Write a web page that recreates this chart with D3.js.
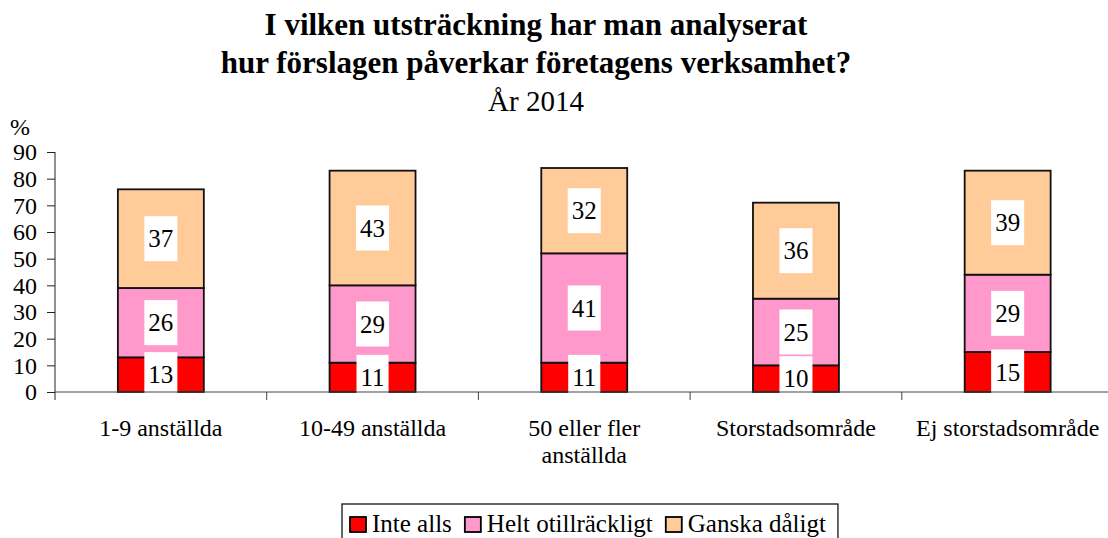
<!DOCTYPE html>
<html>
<head>
<meta charset="utf-8">
<script src="https://cdn.jsdelivr.net/npm/d3@7"></script>
<style>
  html, body { margin: 0; padding: 0; background: #fff; }
  svg { display: block; }
  svg text { font-family: 'Liberation Serif', 'Times New Roman', Times, serif; }
</style>
</head>
<body>
<svg id="chart" width="1108" height="538"></svg>
<script>
// Survey answers per company group, percent
const categories = ["1-9 anställda", "10-49 anställda", "50 eller fler anställda", "Storstadsområde", "Ej storstadsområde"];
const categoryLines = [["1-9 anställda"], ["10-49 anställda"], ["50 eller fler", "anställda"], ["Storstadsområde"], ["Ej storstadsområde"]];
const inteAlls = [13, 11, 11, 10, 15];
const heltOtillrackligt = [26, 29, 41, 25, 29];
const ganskaDaligt = [37, 43, 32, 36, 39];
const seriesNames = ["Inte alls", "Helt otillräckligt", "Ganska dåligt"];
const seriesColors = ["#FF0000", "#FF99CC", "#FFCC99"];
const yTicks = [0, 10, 20, 30, 40, 50, 60, 70, 80, 90];
const titleLines = ["I vilken utsträckning har man analyserat", "hur förslagen påverkar företagens verksamhet?"];
const subtitle = "År 2014";

const FONT = "Liberation Serif";
const svg = d3.select("#chart");
const plotLeft = 55, plotTop = 152, plotBottom = 392, step = 211.7;

const x = d3.scaleBand()
  .domain(categories)
  .range([plotLeft, plotLeft + step * categories.length])
  .paddingInner(0.594)
  .paddingOuter(0.297);

const y = d3.scaleLinear().domain([0, 90]).range([plotBottom, plotTop]);

// Titles
const titleX = 536;
svg.selectAll("text.title").data(titleLines).enter().append("text")
  .attr("class", "title")
  .attr("x", titleX).attr("y", (d, i) => 35 + i * 38)
  .attr("text-anchor", "middle")
  .attr("font-family", FONT)
  .attr("font-size", 31).attr("font-weight", "bold")
  .text(d => d);
svg.append("text")
  .attr("x", titleX).attr("y", 111)
  .attr("text-anchor", "middle")
  .attr("font-family", FONT)
  .attr("font-size", 29)
  .text(subtitle);

// Stacked data
const rows = categories.map((c, i) => ({
  cat: c,
  "Inte alls": inteAlls[i],
  "Helt otillräckligt": heltOtillrackligt[i],
  "Ganska dåligt": ganskaDaligt[i]
}));
const stacked = d3.stack().keys(seriesNames)(rows);

const layers = svg.append("g").selectAll("g").data(stacked).enter().append("g")
  .attr("fill", (d, i) => seriesColors[i]);
layers.selectAll("rect").data(d => d).enter().append("rect")
  .attr("x", d => x(d.data.cat))
  .attr("width", x.bandwidth())
  .attr("y", d => y(d[1]))
  .attr("height", d => y(d[0]) - y(d[1]))
  .attr("stroke", "#111")
  .attr("stroke-width", 1.8);

// Value labels on white boxes
const labels = svg.append("g");
stacked.forEach(layer => {
  layer.forEach(d => {
    const v = d[1] - d[0];
    const cx = x(d.data.cat) + x.bandwidth() / 2;
    const cy = y((d[0] + d[1]) / 2);
    const g = labels.append("g");
    const t = g.append("text")
      .attr("x", cx).attr("y", cy).attr("dy", "0.35em")
      .attr("text-anchor", "middle")
      .attr("font-family", FONT)
      .attr("font-size", 25)
      .text(v);
    const w = t.node().getComputedTextLength() + 8;
    g.insert("rect", "text")
      .attr("x", cx - w / 2).attr("y", cy - 22.5)
      .attr("width", w).attr("height", 45)
      .attr("fill", "#fff");
  });
});

// Y axis
const yAxis = svg.append("g")
  .attr("transform", `translate(${plotLeft},0)`)
  .call(d3.axisLeft(y).tickValues(yTicks).tickSize(8).tickSizeOuter(0).tickPadding(10));
yAxis.attr("font-family", FONT);
yAxis.select(".domain").remove();
yAxis.selectAll(".tick line").attr("stroke", "#222");
yAxis.selectAll(".tick text")
  .attr("font-size", 24)
  .attr("font-family", FONT)
  .attr("fill", "#000");
svg.append("line")
  .attr("x1", plotLeft).attr("x2", plotLeft)
  .attr("y1", y(90)).attr("y2", plotBottom + 8)
  .attr("stroke", "#222");
svg.append("text")
  .attr("x", 10).attr("y", 135)
  .attr("font-family", FONT)
  .attr("font-size", 24)
  .text("%");

// X axis with separators between categories
svg.append("line")
  .attr("x1", plotLeft).attr("x2", x.range()[1])
  .attr("y1", plotBottom).attr("y2", plotBottom)
  .attr("stroke", "#444");
svg.append("g").selectAll("line").data(categories).enter().append("line")
  .attr("x1", d => x(d) + x.bandwidth() + x.step() * x.paddingInner() / 2)
  .attr("x2", d => x(d) + x.bandwidth() + x.step() * x.paddingInner() / 2)
  .attr("y1", plotBottom).attr("y2", plotBottom + 8)
  .attr("stroke", "#444");

const catLabels = svg.append("g").selectAll("text").data(categories).enter().append("text")
  .attr("x", d => x(d) + x.bandwidth() / 2)
  .attr("y", 436)
  .attr("text-anchor", "middle")
  .attr("font-family", FONT)
  .attr("font-size", 24);
catLabels.each(function(d, i) {
  const t = d3.select(this);
  categoryLines[i].forEach((line, j) => {
    t.append("tspan")
      .attr("x", x(d) + x.bandwidth() / 2)
      .attr("dy", j === 0 ? 0 : 27)
      .text(line);
  });
});

// Legend
const legend = svg.append("g");
const legendBox = legend.append("rect")
  .attr("y", 504).attr("height", 40)
  .attr("fill", "#fff").attr("stroke", "#000").attr("stroke-width", 1.2);
let lx = 350;
const startX = 342;
seriesNames.forEach((name, i) => {
  legend.append("rect")
    .attr("x", lx).attr("y", 517).attr("width", 16).attr("height", 15)
    .attr("fill", seriesColors[i]).attr("stroke", "#000").attr("stroke-width", 1.8);
  const t = legend.append("text")
    .attr("x", lx + 22).attr("y", 532)
    .attr("font-family", FONT)
    .attr("font-size", 25)
    .text(name);
  lx += 22 + t.node().getComputedTextLength() + 13;
});
legendBox.attr("x", startX).attr("width", lx - 13 + 12 - startX);
</script>
</body>
</html>
